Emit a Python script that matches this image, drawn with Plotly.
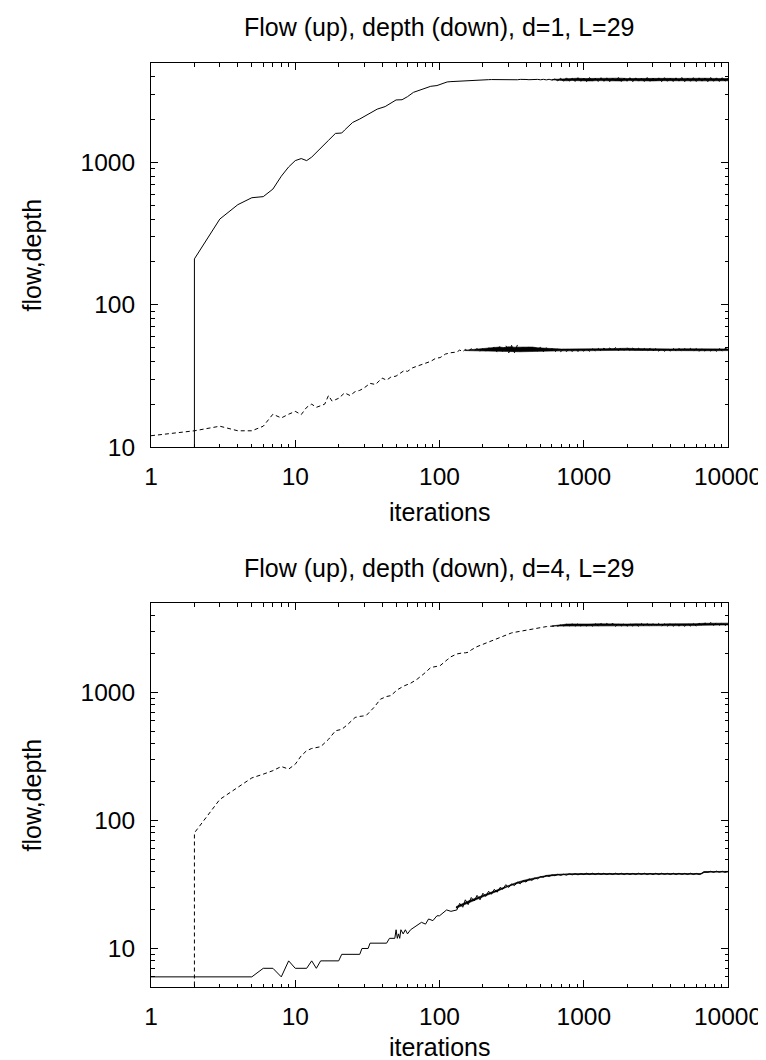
import math
import plotly.graph_objects as go

# ---------------- data ----------------
# Shared iteration samples for the noisy plateau part
tail_iters = [132, 138, 145, 151, 158, 166, 174, 182, 191, 200, 209, 219, 229, 240, 251,
              263, 275, 288, 302, 316, 331, 347, 363, 380, 398, 417, 437, 457, 479, 501,
              525, 550, 575, 603, 631, 661, 692, 724, 759, 794, 832, 871, 912, 955,
              1000, 1047, 1096, 1148, 1202, 1259, 1318, 1380, 1445, 1514, 1585, 1660, 1738,
              1820, 1905, 1995, 2089, 2188, 2291, 2399, 2512, 2630, 2754, 2884, 3020, 3162,
              3311, 3467, 3631, 3802, 3981, 4169, 4365, 4571, 4786, 5012, 5248, 5495, 5754,
              6026, 6310, 6607, 6918, 7244, 7586, 7943, 8318, 8710, 9120, 9550, 10000]

# ---- panel 1 (d=1): flow (solid, upper) ----
flow1_head_x = [2, 2, 3, 4, 5, 6, 7, 8, 9, 10, 11, 12, 13, 15, 17, 19, 21, 22, 25, 28, 32,
                37, 42, 50, 55, 60, 66, 72, 78, 87, 96, 105, 113, 120]
flow1_head_y = [1, 210, 400, 505, 565, 575, 650, 800, 930, 1030, 1065, 1030, 1090, 1250, 1430,
                1600, 1610, 1690, 1910, 2020, 2190, 2370, 2470, 2750, 2760, 2900, 3110, 3200,
                3300, 3430, 3470, 3600, 3680, 3700]
flow1_tail_y = [3720, 3745, 3765, 3780, 3790, 3800, 3805, 3812, 3815, 3818, 3822, 3818, 3825,
                3820, 3826, 3820, 3828, 3818, 3830, 3815, 3832, 3812, 3835, 3810, 3830, 3815,
                3832, 3812, 3835, 3810, 3838, 3805, 3840, 3790, 3860, 3750, 3910, 3720, 3930,
                3730, 3900, 3710, 3940, 3720, 3920, 3700, 3950, 3730, 3910, 3710, 3940, 3720,
                3930, 3700, 3920, 3740, 3950, 3710, 3920, 3720, 3940, 3700, 3930, 3730, 3910,
                3710, 3950, 3720, 3920, 3740, 3930, 3700, 3940, 3720, 3910, 3710, 3930, 3730,
                3950, 3700, 3920, 3720, 3940, 3710, 3930, 3730, 3920, 3700, 3950, 3720, 3930,
                3710, 3940, 3730, 3900]
# envelope of the dense noise band
flow1_band_x = [600, 650, 700, 760, 830, 900, 1000, 1100, 1250, 1400, 1600, 1800, 2000, 2300,
                2600, 3000, 3400, 3900, 4500, 5200, 6000, 7000, 8000, 9000, 10000]
flow1_band_lo = [3810, 3780, 3760, 3750, 3765, 3745, 3755, 3740, 3760, 3745, 3750, 3740, 3760,
                 3745, 3750, 3740, 3755, 3745, 3750, 3740, 3755, 3745, 3750, 3740, 3750]
flow1_band_hi = [3830, 3850, 3880, 3895, 3880, 3905, 3890, 3900, 3885, 3905, 3895, 3910, 3890,
                 3900, 3895, 3905, 3890, 3900, 3895, 3910, 3890, 3905, 3895, 3900, 3890]

# ---- panel 1 (d=1): depth (dashed, lower) ----
depth1_head_x = [1, 2, 3, 4, 5, 6, 7, 8, 9, 10, 11, 12, 13, 14, 15, 16, 17, 18, 19, 20, 22, 24,
                 26, 28, 30, 33, 36, 38, 40, 43, 46, 50, 53, 57, 60, 65, 70, 75, 80, 87, 94,
                 101, 110, 120]
depth1_head_y = [12, 13, 14, 13, 13, 14, 17, 16, 17, 17.8, 16.9, 19, 20, 19, 19.5, 20, 23, 21,
                 21.5, 22, 24, 23, 24.5, 25, 26, 28, 27.5, 29, 30.5, 29.5, 31, 31.5, 33, 34.5,
                 34, 36, 37, 38, 38.5, 40, 42, 42.5, 45, 46]
depth1_tail_y = [46.5, 48, 46.8, 48.5, 47.2, 49, 47.4, 49.2, 47.0, 49.5, 47.2, 50.5, 46.5, 51,
                 46.2, 51.5, 46, 52, 45.8, 51.8, 46, 52.2, 46.2, 51.5, 46.5, 51.5, 46.2, 51,
                 46.5, 50.5, 46.8, 50, 46.8, 49.2, 46.6, 48.8, 46.8, 48.6, 46.9, 48.8, 47, 49,
                 47, 48.8, 47.2, 49, 47.1, 49.2, 47.4, 49.3, 47.3, 49.5, 47.5, 49.6, 47.6, 50,
                 47.5, 50.3, 47.8, 50.2, 47.6, 49.6, 47.4, 49.4, 47.2, 49.2, 47.2, 49.4, 47.3,
                 49.3, 47.2, 49.2, 47.1, 49.3, 47.2, 49.5, 47.3, 49.3, 47.1, 49.1, 47.2, 49.3,
                 47.2, 49.2, 47.0, 49.3, 47.2, 49.4, 47.3, 49.2, 47.1, 49.3, 47.3, 49.4, 48.2]
depth1_band_x = [150, 170, 200, 220, 240, 260, 280, 300, 330, 360, 400, 440, 480, 520, 560, 620,
                 700, 800, 900, 1000, 1200, 1400, 1600, 1800, 2000, 2300, 2700, 3200, 4000,
                 5000, 6500, 8000, 10000]
depth1_band_lo = [47.6, 47.4, 47.2, 46.9, 47.0, 46.7, 46.9, 46.6, 46.8, 46.7, 46.9, 46.8, 47.0,
                  47.1, 47.3, 47.3, 47.4, 47.4, 47.5, 47.5, 47.6, 47.6, 47.7, 47.9, 47.8, 47.7,
                  47.6, 47.6, 47.5, 47.5, 47.5, 47.5, 47.6]
depth1_band_hi = [47.9, 48.5, 48.9, 49.6, 49.9, 50.4, 50.0, 50.6, 50.3, 50.5, 50.2, 50.4, 49.8,
                  49.6, 49.2, 48.9, 48.8, 48.9, 48.8, 48.9, 49.0, 49.1, 49.3, 49.6, 49.4, 49.2,
                  49.0, 49.0, 48.9, 49.0, 48.9, 49.0, 48.9]

# ---- panel 2 (d=4): flow (dashed, upper) ----
flow4_head_x = [2, 2, 3, 4, 5, 6, 7, 8, 9, 10, 11, 12, 13, 15, 17, 19, 21, 23, 26, 28, 31, 35,
                39, 43, 46, 51, 57, 63, 70, 78, 87, 96, 101, 113, 120]
flow4_head_y = [1, 80, 146, 183, 215, 230, 245, 264, 252, 275, 320, 351, 365, 377, 430, 502,
                515, 560, 638, 650, 660, 760, 887, 930, 945, 1050, 1127, 1180, 1270, 1400,
                1567, 1600, 1620, 1800, 1900]
flow4_tail_y = [2000, 2030, 2040, 2040, 2060, 2150, 2230, 2280, 2330, 2380, 2420, 2490, 2550,
                2600, 2650, 2700, 2760, 2830, 2880, 2920, 2950, 2980, 3010, 3040, 3080, 3110,
                3150, 3170, 3200, 3220, 3250, 3270, 3290, 3300, 3320, 3300, 3370, 3290, 3410,
                3300, 3440, 3290, 3460, 3300, 3450, 3300, 3480, 3290, 3450, 3310, 3470, 3290,
                3460, 3300, 3480, 3280, 3450, 3310, 3470, 3290, 3460, 3300, 3440, 3290, 3460,
                3300, 3450, 3280, 3440, 3300, 3460, 3290, 3440, 3300, 3450, 3290, 3460, 3300,
                3440, 3290, 3450, 3310, 3470, 3300, 3480, 3320, 3500, 3340, 3520, 3330, 3510,
                3350, 3520, 3340, 3450]
flow4_band_x = [600, 650, 700, 760, 830, 900, 1000, 1100, 1250, 1400, 1600, 1800, 2000, 2300,
                2600, 3000, 3400, 3900, 4500, 5200, 6000, 6700, 7500, 8500, 10000]
flow4_band_lo = [3300, 3300, 3310, 3320, 3310, 3320, 3315, 3325, 3310, 3320, 3315, 3310, 3320,
                 3315, 3320, 3310, 3320, 3315, 3320, 3310, 3330, 3350, 3370, 3360, 3370]
flow4_band_hi = [3310, 3360, 3400, 3420, 3430, 3420, 3435, 3425, 3440, 3430, 3440, 3430, 3425,
                 3435, 3420, 3430, 3425, 3435, 3430, 3440, 3450, 3470, 3480, 3485, 3480]

# ---- panel 2 (d=4): depth (solid, lower) ----
depth4_head_x = [1, 5, 6, 7, 8, 9, 10, 12, 13, 14, 15, 20, 21, 28, 29, 32, 33, 43, 45, 49, 50,
                 51, 52, 53, 54, 56, 58, 60, 63, 66, 70, 75, 80, 84, 90, 96, 100, 106, 112, 120]
depth4_head_y = [6, 6, 7, 7, 6, 8, 7, 7, 8, 7, 8, 8, 9, 9, 10, 10, 11, 11, 12, 12, 14, 12, 13,
                 12, 14, 13, 14, 13, 14, 14.5, 15, 16, 15.5, 17, 16.5, 18, 18, 19, 20, 19.5]
depth4_tail_y = [20, 22.5, 21, 24, 22, 25, 23.5, 26, 24, 27, 25.5, 28, 26.5, 29, 27.5, 30, 29,
                 31.5, 30, 32, 31, 33, 32, 34, 33, 35, 34, 35.5, 35, 36.5, 36, 37.2, 36.5, 37.5,
                 37, 38, 37.2, 38, 37.4, 38.3, 37.6, 38.4, 37.6, 38.4,
                 37.8, 38.7, 37.8, 38.7, 37.8, 38.7, 37.9, 38.7, 37.8, 38.6, 37.8, 38.7, 37.9,
                 38.7, 37.8, 38.7, 37.8, 38.6, 37.8, 38.7, 37.9, 38.7, 37.8, 38.6, 37.8, 38.7,
                 37.8, 38.7, 37.9, 38.6, 37.8, 38.7, 37.8, 38.7, 37.9, 38.6, 37.8, 38.7, 37.8,
                 38.6, 37.8, 38.7, 39.4, 39.3, 40.1, 39.3, 40.2, 39.4, 40.1, 39.3, 40.0]
depth4_band_x = [130, 160, 200, 250, 300, 350, 400, 450, 500, 560, 620, 700, 800, 1000, 1500,
                 2500, 4000, 6500, 6800, 8000, 10000]
depth4_band_lo = [20.6, 22.9, 25.3, 27.9, 30.5, 32.3, 33.7, 34.8, 35.8, 36.7, 37.2, 37.6, 37.8,
                  37.9, 38.0, 38.0, 38.0, 38.0, 39.4, 39.5, 39.5]
depth4_band_hi = [21.2, 23.6, 26.0, 28.7, 31.3, 33.1, 34.5, 35.6, 36.5, 37.3, 37.8, 38.2, 38.4,
                  38.5, 38.5, 38.5, 38.5, 38.5, 39.9, 40.0, 40.0]

titles = ["Flow (up), depth (down), d=1, L=29", "Flow (up), depth (down), d=4, L=29"]
x_label = "iterations"
y_label = "flow,depth"
x_major = [1, 10, 100, 1000, 10000]
x_major_text = ["1", "10", "100", "1000", "10000"]
x_minor = [2, 3, 4, 5, 6, 7, 8, 9, 20, 30, 40, 50, 60, 70, 80, 90, 200, 300, 400, 500, 600,
           700, 800, 900, 2000, 3000, 4000, 5000, 6000, 7000, 8000, 9000]
y_major = [10, 100, 1000]
y_major_text = ["10", "100", "1000"]
y_minor = [5, 6, 7, 8, 9, 20, 30, 40, 50, 60, 70, 80, 90, 200, 300, 400, 500, 600, 700, 800,
           900, 2000, 3000, 4000, 5000]
y1_range = [10, 5000]
y2_range = [5, 5000]

# ---------------- figure ----------------
FONT = "Liberation Sans, Arial, Helvetica, sans-serif"
FS_TICK = 24.5
FS_TEXT = 25
SOLID = dict(color="black", width=1)
DASHED = dict(color="black", width=1, dash="4px,3px")

fig = go.Figure()


def add_band(bx, lo, hi, xa, ya):
    fig.add_trace(go.Scatter(x=bx, y=lo, mode="lines", line=dict(color="black", width=0.6),
                             xaxis=xa, yaxis=ya, showlegend=False, hoverinfo="skip"))
    fig.add_trace(go.Scatter(x=bx, y=hi, mode="lines", line=dict(color="black", width=0.6),
                             fill="tonexty", fillcolor="black",
                             xaxis=xa, yaxis=ya, showlegend=False, hoverinfo="skip"))


add_band(flow1_band_x, flow1_band_lo, flow1_band_hi, "x", "y")
add_band(depth1_band_x, depth1_band_lo, depth1_band_hi, "x", "y")
add_band(flow4_band_x, flow4_band_lo, flow4_band_hi, "x2", "y2")
add_band(depth4_band_x, depth4_band_lo, depth4_band_hi, "x2", "y2")

fig.add_trace(go.Scatter(x=flow1_head_x + tail_iters, y=flow1_head_y + flow1_tail_y,
                         mode="lines", line=SOLID, xaxis="x", yaxis="y", showlegend=False))
fig.add_trace(go.Scatter(x=depth1_head_x + tail_iters, y=depth1_head_y + depth1_tail_y,
                         mode="lines", line=DASHED, xaxis="x", yaxis="y", showlegend=False))
fig.add_trace(go.Scatter(x=flow4_head_x + tail_iters, y=flow4_head_y + flow4_tail_y,
                         mode="lines", line=DASHED, xaxis="x2", yaxis="y2", showlegend=False))
fig.add_trace(go.Scatter(x=depth4_head_x + tail_iters, y=depth4_head_y + depth4_tail_y,
                         mode="lines", line=SOLID, xaxis="x2", yaxis="y2", showlegend=False))


def axis_common(major, major_text, minor, rng, **kw):
    d = dict(type="log", range=[math.log10(rng[0]), math.log10(rng[1])],
             showline=True, linecolor="black", linewidth=1, mirror="allticks",
             ticks="inside", ticklen=7, tickwidth=1, tickcolor="black",
             tickmode="array", tickvals=major, ticktext=major_text,
             showgrid=False, zeroline=False,
             tickfont=dict(family=FONT, size=FS_TICK, color="black"),
             minor=dict(tickmode="array", tickvals=minor, ticks="inside", ticklen=3.5,
                        tickwidth=1, tickcolor="black", showgrid=False))
    d.update(kw)
    return d


top_lo = (979 - 439) / 924
bot_hi = 384 / 924
fig.update_layout(
    width=766, height=1060,
    margin=dict(l=143, r=44, t=55, b=81),
    paper_bgcolor="white", plot_bgcolor="white",
    font=dict(family=FONT, size=FS_TICK, color="black"),
    xaxis=axis_common(x_major, x_major_text, x_minor, [1, 10000], anchor="y", domain=[0, 1],
                      ticklabelstandoff=8),
    yaxis=axis_common(y_major, y_major_text, y_minor, y1_range, anchor="x",
                      domain=[top_lo, 1], ticklabelstandoff=10),
    xaxis2=axis_common(x_major, x_major_text, x_minor, [1, 10000], anchor="y2", domain=[0, 1],
                       ticklabelstandoff=8),
    yaxis2=axis_common(y_major, y_major_text, y_minor, y2_range, anchor="x2",
                       domain=[0, bot_hi], ticklabelstandoff=10),
)


def py(pix):
    return (979 - pix) / 924


annos = []
title_y = [19.5, 559.5]
xlab_y = [503.5, 1039]
ylab_y = [247, 787]
for k in range(2):
    annos.append(dict(text=titles[k], x=0.5, y=py(title_y[k]), xref="paper", yref="paper",
                      xanchor="center", yanchor="middle", showarrow=False,
                      font=dict(family=FONT, size=FS_TEXT, color="black")))
    annos.append(dict(text=x_label, x=0.5, y=py(xlab_y[k]), xref="paper", yref="paper",
                      xanchor="center", yanchor="middle", showarrow=False,
                      font=dict(family=FONT, size=FS_TEXT, color="black")))
    annos.append(dict(text=y_label, x=(24 - 143) / 579, y=py(ylab_y[k]), xref="paper",
                      yref="paper", xanchor="center", yanchor="middle", textangle=-90,
                      showarrow=False, font=dict(family=FONT, size=FS_TEXT, color="black")))
fig.update_layout(annotations=annos)

fig.write_html("out.html")
